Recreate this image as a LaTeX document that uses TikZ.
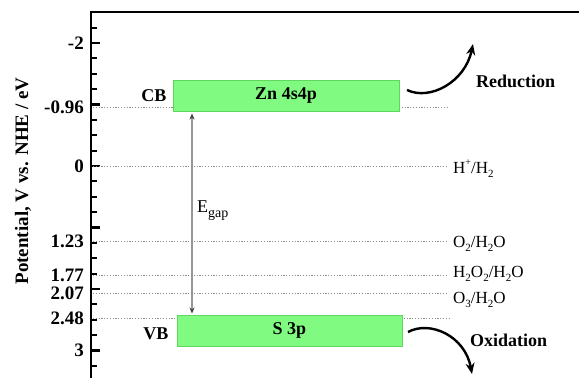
\documentclass[tikz,border=0pt]{standalone}
\usepackage{fontspec}
\setmainfont{Liberation Serif}
\usetikzlibrary{arrows.meta}
\definecolor{bandfill}{RGB}{128,250,128}
\definecolor{bandline}{RGB}{95,215,95}
\definecolor{dotgray}{RGB}{140,140,140}
\definecolor{gapgray}{RGB}{150,150,150}
\newcommand{\mysub}[1]{\raisebox{-0.28em}{\fontsize{11}{11}\selectfont #1}}
\newcommand{\mysup}[1]{\raisebox{0.45em}{\fontsize{10}{10}\selectfont #1}}
\begin{document}
\begin{tikzpicture}[x=1pt,y=-1pt,
  band/.style={draw=bandline,line width=0.8pt,fill=bandfill,minimum height=31pt,inner sep=0pt,font=\fontsize{18}{20}\selectfont\bfseries},
  dotline/.style={draw=dotgray,line width=0.7pt,dash pattern=on 1.2pt off 1.6pt},
  ticklab/.style={anchor=east,inner sep=0pt,font=\fontsize{19}{21}\selectfont\bfseries},
  bandlab/.style={inner sep=0pt,font=\fontsize{18}{20}\selectfont\bfseries},
  redox/.style={anchor=base west,inner sep=0pt,font=\fontsize{17}{19}\selectfont},
  proc/.style={line width=2.4pt,-{Stealth[length=11pt,width=9pt]}},
  axisline/.style={line width=2.6pt},
  tickmark/.style={line width=2.2pt}]
\useasboundingbox (0,0) rectangle (579,378);

% axis frame
\coordinate (ax0) at (91,378);
\coordinate (axtop) at (91,12);
\coordinate (topright) at (579,12);
\draw[axisline] (ax0) -- (axtop) -- (topright);

% ticks (every 0.25 V); y = 166 + 61.5 V
\foreach \v in {-2.25,-2,...,3.25}{
  \draw[tickmark] (91,{166+61.5*\v}) -- ++(6,0);
}
\foreach \v in {-2,-1,0,1,2,3}{
  \draw[tickmark] (91,{166+61.5*\v}) -- ++(9,0);
}

% tick labels
\node[ticklab] (lm2) at (84,43) {-2};
\node[ticklab] (lm096) at (84,107) {-0.96};
\node[ticklab] (l0) at (84,166) {0};
\node[ticklab] (l123) at (84,241.6) {1.23};
\node[ticklab] (l177) at (84,274.9) {1.77};
\node[ticklab] (l207) at (84,293.8) {2.07};
\node[ticklab] (l248) at (84,318.5) {2.48};
\node[ticklab] (l3) at (84,350.5) {3};

% axis title
\node[rotate=90,inner sep=0pt,font=\fontsize{19}{21}\selectfont\bfseries] (ytitle) at (23,181) {Potential, V vs. NHE / eV};

% dotted reference lines
\coordinate (d096a) at (93,107);  \coordinate (d096b) at (173,107);
\coordinate (d096c) at (399,107); \coordinate (d096d) at (448,107);
\coordinate (d0a) at (93,166);    \coordinate (d0b) at (448,166);
\coordinate (d123a) at (93,241.6);\coordinate (d123b) at (448,241.6);
\coordinate (d177a) at (93,274.9);\coordinate (d177b) at (448,274.9);
\coordinate (d207a) at (93,293.8);\coordinate (d207b) at (448,293.8);
\coordinate (d248a) at (93,318.5);\coordinate (d248b) at (450,318.5);
\draw[dotline] (d096a) -- (d096b);
\draw[dotline] (d096c) -- (d096d);
\draw[dotline] (d0a) -- (d0b);
\draw[dotline] (d123a) -- (d123b);
\draw[dotline] (d177a) -- (d177b);
\draw[dotline] (d207a) -- (d207b);
\draw[dotline] (d248a) -- (d248b);

% bands
\node[band,minimum width=226pt] (cb) at (286,95.5) {Zn 4s4p};
\node[band,minimum width=225pt] (vb) at (289.5,330.5) {S 3p};
\node[bandlab] (cblab) at (154,96) {CB};
\node[bandlab] (vblab) at (156,334) {VB};

% band gap arrow
\coordinate (gtop) at (192,113.5);
\coordinate (gbot) at (192,313.5);
\draw[gapgray,line width=1.1pt,{Stealth[length=6pt,width=5pt,black!75]}-{Stealth[length=6pt,width=5pt,black!75]}] (gtop) -- (gbot);
\node[redox,font=\fontsize{18}{20}\selectfont] (egap) at (197,212) {E\raisebox{-0.3em}{\fontsize{14}{14}\selectfont gap}};

% redox couples
\node[redox] (h) at (453,173) {H\mysup{+}/H\mysub{2}};
\node[redox] (o2) at (453,247) {O\mysub{2}/H\mysub{2}O};
\node[redox] (h2o2) at (453,277) {H\mysub{2}O\mysub{2}/H\mysub{2}O};
\node[redox] (o3) at (453,303) {O\mysub{3}/H\mysub{2}O};

% reduction / oxidation arrows
\coordinate (rs) at (407,90);
\coordinate (re) at (473,44);
\draw[proc] (rs) .. controls (430,101) and (465,82) .. (re);
\node[bandlab,anchor=west] (red) at (476,81) {Reduction};
\coordinate (os) at (408,332);
\coordinate (oe) at (472,374);
\draw[proc] (os) .. controls (430,320) and (465,336) .. (oe);
\node[bandlab,anchor=west] (ox) at (470,340) {Oxidation};
\end{tikzpicture}
\end{document}
